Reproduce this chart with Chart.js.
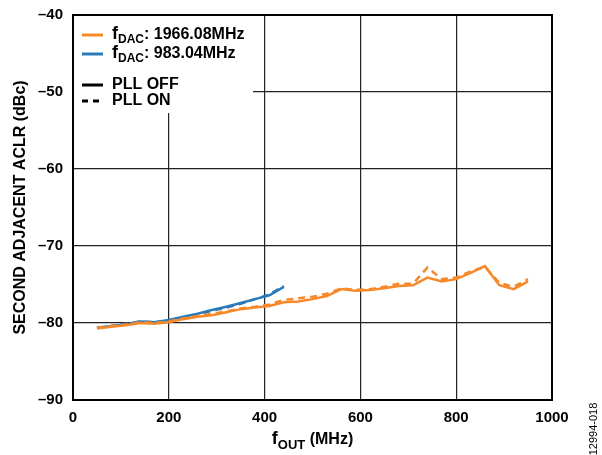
<!DOCTYPE html>
<html>
<head>
<meta charset="utf-8">
<script src="https://cdn.jsdelivr.net/npm/chart.js@4/dist/chart.umd.min.js"></script>
<style>
html,body{margin:0;padding:0;background:#fff;}
#wrap{width:602px;height:455px;position:relative;}
</style>
</head>
<body>
<div id="wrap"><canvas id="c" width="602" height="455"></canvas></div>
<script>
// Data
const orangeFreq = [50, 80, 110, 140, 170, 200, 230, 260, 290, 320, 350, 380, 410, 440, 470, 500, 530, 560, 590, 620, 650, 680, 710, 740, 770, 800, 830, 860, 890, 920, 950];
const orangeOff = [-80.7, -80.5, -80.3, -80.0, -80.1, -79.9, -79.5, -79.2, -79.0, -78.6, -78.2, -78.0, -77.8, -77.3, -77.2, -76.9, -76.5, -75.6, -75.8, -75.7, -75.5, -75.2, -75.1, -74.1, -74.6, -74.3, -73.5, -72.6, -75.1, -75.6, -74.6];
const orangeOn  = [-80.6, -80.4, -80.2, -79.9, -80.0, -79.8, -79.4, -79.1, -78.8, -78.5, -78.1, -77.9, -77.6, -77.0, -76.8, -76.6, -76.2, -75.5, -75.7, -75.6, -75.3, -74.9, -74.9, -72.8, -74.3, -74.1, -73.3, -72.7, -74.8, -75.3, -74.3];
const blueFreq = [50, 80, 110, 140, 170, 200, 230, 260, 290, 320, 350, 380, 410, 440];
const blueOff = [-80.6, -80.4, -80.2, -79.8, -79.9, -79.6, -79.2, -78.8, -78.3, -77.9, -77.4, -76.9, -76.4, -75.3];
const blueOn  = [-80.6, -80.4, -80.1, -79.8, -79.9, -79.7, -79.3, -78.9, -78.4, -78.0, -77.5, -76.9, -76.3, -75.2];
const xTicks = [0, 200, 400, 600, 800, 1000];
const yTicks = [-90, -80, -70, -60, -50, -40];
const legendSeries = [
  {sub: 'DAC', label: ': 1966.08MHz', color: '#F7892B'},
  {sub: 'DAC', label: ': 983.04MHz', color: '#2A7AB8'}
];
const legendStyles = [
  {label: 'PLL OFF', dash: []},
  {label: 'PLL ON', dash: [6, 5]}
];
const yTitle = 'SECOND ADJACENT ACLR (dBc)';
const xTitleMain = 'f';
const xTitleSub = 'OUT';
const xTitleRest = ' (MHz)';
const sideNote = '12994-018';

const ORANGE = '#F7892B', BLUE = '#2A7AB8';
const FONT = '"Liberation Sans", Arial, sans-serif';

function pts(xs, ys){ return xs.map((x,i)=>({x:x, y:ys[i]})); }

const overlay = {
  id: 'overlay',
  afterDraw(chart){
    const ctx = chart.ctx;
    const a = chart.chartArea;
    ctx.save();
    // frame
    ctx.strokeStyle = '#000';
    ctx.lineWidth = 2;
    ctx.strokeRect(a.left, a.top, a.right - a.left, a.bottom - a.top);
    // legend box
    ctx.fillStyle = '#fff';
    ctx.fillRect(a.left + 1, a.top + 1, 179, 97);
    ctx.textBaseline = 'middle';
    ctx.fillStyle = '#000';
    const lx0 = a.left + 9, lx1 = a.left + 30, tx = a.left + 39;
    const rows = [a.top + 20, a.top + 39];
    legendSeries.forEach((s, i) => {
      const y = rows[i];
      ctx.strokeStyle = s.color; ctx.lineWidth = 3; ctx.setLineDash([]);
      ctx.beginPath(); ctx.moveTo(lx0, y); ctx.lineTo(lx1, y); ctx.stroke();
      ctx.font = 'bold 18px ' + FONT;
      ctx.fillStyle = '#000';
      ctx.fillText('f', tx, y - 1);
      let w = ctx.measureText('f').width;
      ctx.font = 'bold 12px ' + FONT;
      ctx.fillText(s.sub, tx + w, y + 5);
      w += ctx.measureText(s.sub).width;
      ctx.font = 'bold 16px ' + FONT;
      ctx.fillText(s.label, tx + w, y);
    });
    const rows2 = [a.top + 70, a.top + 86];
    legendStyles.forEach((s, i) => {
      const y = rows2[i];
      ctx.strokeStyle = '#000'; ctx.lineWidth = 3; ctx.setLineDash(s.dash);
      ctx.beginPath(); ctx.moveTo(lx0, y); ctx.lineTo(lx1, y); ctx.stroke();
      ctx.setLineDash([]);
      ctx.font = 'bold 16px ' + FONT;
      ctx.fillText(s.label, tx, y);
    });
    // y title
    ctx.save();
    ctx.translate(21, (a.top + a.bottom) / 2);
    ctx.rotate(-Math.PI / 2);
    ctx.textAlign = 'center';
    ctx.font = 'bold 16px ' + FONT;
    ctx.fillText(yTitle, 0, 0);
    ctx.restore();
    // x title
    ctx.font = 'bold 18px ' + FONT;
    const w1 = ctx.measureText(xTitleMain).width;
    ctx.font = 'bold 13px ' + FONT;
    const w2 = ctx.measureText(xTitleSub).width;
    ctx.font = 'bold 16px ' + FONT;
    const w3 = ctx.measureText(xTitleRest).width;
    let x = (a.left + a.right) / 2 - (w1 + w2 + w3) / 2;
    const ty = 440;
    ctx.textAlign = 'left';
    ctx.font = 'bold 18px ' + FONT; ctx.fillText(xTitleMain, x, ty - 1); x += w1;
    ctx.font = 'bold 13px ' + FONT; ctx.fillText(xTitleSub, x, ty + 5); x += w2;
    ctx.font = 'bold 16px ' + FONT; ctx.fillText(xTitleRest, x, ty);
    // side note
    ctx.save();
    ctx.translate(594, 429);
    ctx.rotate(-Math.PI / 2);
    ctx.textAlign = 'center';
    ctx.font = '11px ' + FONT;
    ctx.fillText(sideNote, 0, 0);
    ctx.restore();
    ctx.restore();
  }
};

new Chart(document.getElementById('c'), {
  type: 'line',
  data: {
    datasets: [
      {data: pts(orangeFreq, orangeOff), borderColor: ORANGE, borderWidth: 2.5},
      {data: pts(orangeFreq, orangeOn), borderColor: ORANGE, borderWidth: 2.5, borderDash: [7, 5]},
      {data: pts(blueFreq, blueOff), borderColor: BLUE, borderWidth: 2.5},
      {data: pts(blueFreq, blueOn), borderColor: BLUE, borderWidth: 2.5, borderDash: [7, 5]}
    ]
  },
  options: {
    responsive: false,
    animation: false,
    devicePixelRatio: 1,
    elements: {point: {radius: 0}, line: {tension: 0, borderCapStyle: 'butt'}},
    layout: {padding: {left: 0, top: 15, right: 50, bottom: 0}},
    plugins: {legend: {display: false}, tooltip: {enabled: false}},
    scales: {
      x: {
        type: 'linear', min: 0, max: 1000,
        afterBuildTicks: s => { s.ticks = xTicks.map(v => ({value: v})); },
        afterFit: s => { s.height = 55; s.paddingLeft = 0; s.paddingRight = 0; },
        grid: {color: '#222', lineWidth: 1.2, drawTicks: false},
        border: {display: false},
        ticks: {color: '#000', padding: 9, font: {family: FONT, size: 15, weight: 'bold'}, maxRotation: 0,
          callback: v => String(v)}
      },
      y: {
        min: -90, max: -40,
        afterBuildTicks: s => { s.ticks = yTicks.map(v => ({value: v})); },
        afterFit: s => { s.width = 73; s.paddingTop = 0; s.paddingBottom = 0; },
        grid: {color: '#222', lineWidth: 1.2, drawTicks: false},
        border: {display: false},
        ticks: {color: '#000', padding: 10, font: {family: FONT, size: 15, weight: 'bold'},
          callback: v => String(v).replace('-', '\u2013')}
      }
    }
  },
  plugins: [overlay]
});
</script>
</body>
</html>
